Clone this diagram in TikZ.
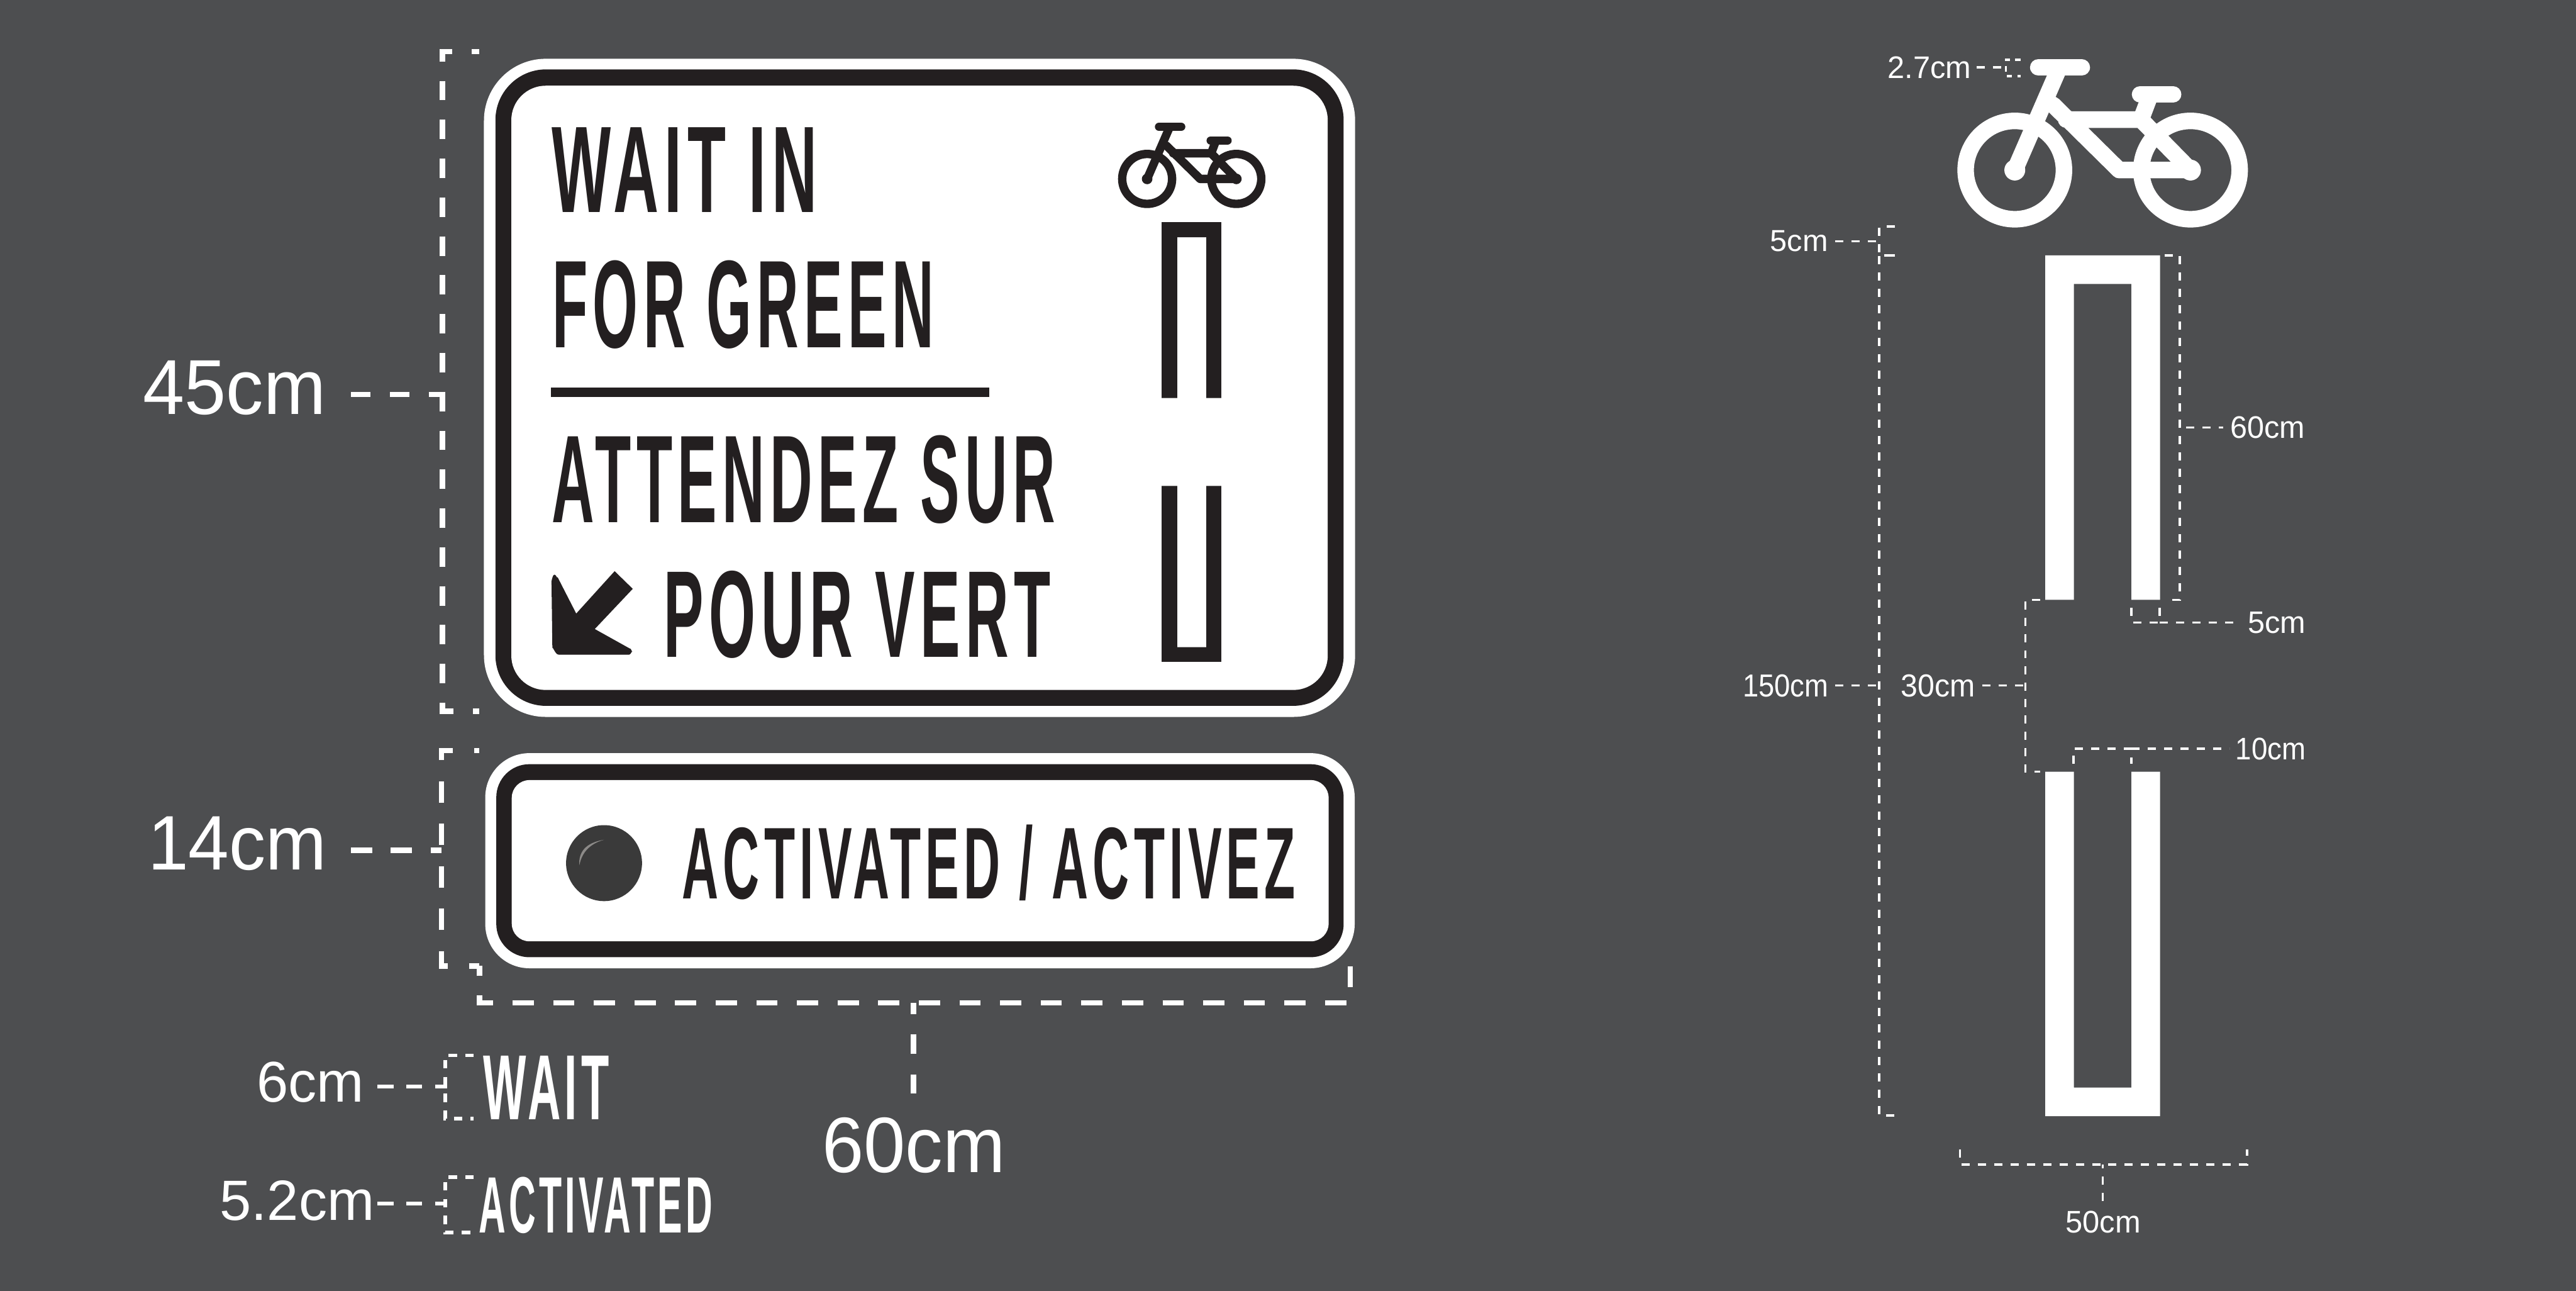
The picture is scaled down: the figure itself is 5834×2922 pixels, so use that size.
\documentclass[tikz,border=0pt]{standalone}
\usepackage{graphicx}
\usepackage{fontspec}
\setmainfont{Liberation Sans}
\newfontfamily\signfont{Liberation Sans}[LetterSpace=9.0]
\definecolor{bgc}{HTML}{4D4E50}
\definecolor{ink}{HTML}{231F20}
\definecolor{lens}{HTML}{3A3A3A}
\definecolor{shine}{HTML}{8C8A88}
\tikzset{
  dimthick/.style={draw=white,line width=1.2pt,dash pattern=on 4.4pt off 4.4pt},
  dimmid/.style={draw=white,line width=0.8pt,dash pattern=on 1.9pt off 1.9pt},
  dimfine/.style={draw=white,line width=0.5pt,dash pattern=on 1.85pt off 1.85pt},
  fitted/.style={inner sep=0pt,outer sep=0pt,anchor=north west}
}
\newcommand\fitlabel[7]{%
  \pgfmathsetlengthmacro\fitw{(#4-#2)*0.1pt}%
  \pgfmathsetlengthmacro\fith{(#5-#3)*0.1pt}%
  \node[fitted,text=#6] (#1) at (#2,#3) {\resizebox*{\fitw}{\fith}{#7}};}
\newcommand\bikeicon[4]{%
  \pgfmathsetlengthmacro\bkw{1.9pt*#3}%
  \begin{scope}[shift={(#1,#2)},scale=#3,line width=\bkw,line cap=round,line join=round,draw=#4]
    \draw (0,0) circle[radius=56.5];
    \draw (202,0) circle[radius=56.5];
    \draw (27,-118) -- (77,-118);
    \draw (144,-87) -- (182,-87);
    \draw[line cap=butt] (50,-115) -- (0,0);
    \draw (44,-75) -- (120,0) -- (202,0) -- (145,-58) -- (59,-58);
    \draw[line cap=butt] (156,-87) -- (145,-58);
    \fill[#4] (0,0) circle[radius=12];
    \fill[#4] (202,0) circle[radius=12];
  \end{scope}}
\begin{document}
\begin{tikzpicture}[x=0.1pt,y=-0.1pt]
\useasboundingbox (0,0) rectangle (5834,2922);
\fill[bgc] (0,0) rectangle (5834,2922);
% main sign
\fill[white,rounded corners=14pt] (1096,133) rectangle (3069,1623);
\fill[ink,rounded corners=11.5pt] (1122,157) rectangle (3043,1598);
\fill[white,rounded corners=7.8pt] (1158,194) rectangle (3007,1562);
\fitlabel{t1}{1250}{289}{1851}{481}{ink}{\signfont\bfseries WAIT IN}
\fitlabel{t2}{1251}{590}{2115}{790}{ink}{\signfont\bfseries FOR GREEN}
\fill[ink] (1247,878) rectangle (2241,898);
\fitlabel{t3}{1250}{986}{2390}{1186}{ink}{\signfont\bfseries ATTENDEZ SUR}
\fitlabel{t4}{1504}{1292}{2380}{1490}{ink}{\signfont\bfseries POUR VERT}
% arrow
\fill[ink,line join=round] (1249,1315) to[out=-90,in=180] (1256,1301) to[out=0,in=-120] (1263,1307)
  -- (1305,1389) -- (1392,1293) -- (1433,1333) -- (1347,1424) -- (1426,1468)
  to[out=30,in=-90] (1432,1475) to[out=90,in=0] (1425,1482) -- (1265,1482)
  to[out=180,in=90] (1251,1468) -- cycle;
\bikeicon{2598}{405}{1}{ink}
% small lane marks
\fill[ink] (2631,901) -- (2631,503) -- (2766,503) -- (2766,901) -- (2732,901) -- (2732,537) -- (2666,537) -- (2666,901) -- cycle;
\fill[ink] (2631,1100) -- (2666,1100) -- (2666,1465) -- (2732,1465) -- (2732,1100) -- (2766,1100) -- (2766,1498) -- (2631,1498) -- cycle;
% lower sign
\fill[white,rounded corners=10pt] (1099,1705) rectangle (3068,2192);
\fill[ink,rounded corners=7.5pt] (1124,1730) rectangle (3043,2167);
\fill[white,rounded corners=4pt] (1159,1766) rectangle (3009,2131);
\fill[lens] (1368,1954) circle[radius=86];
\fill[shine] (1368,1901) .. controls (1325,1908) and (1310,1930) .. (1312,1959) .. controls (1317,1935) and (1330,1912) .. (1368,1901) -- cycle;
\fitlabel{t5}{1545}{1867}{2934}{2039}{ink}{\signfont\bfseries ACTIVATED / ACTIVEZ}
% loose words
\fitlabel{w1}{1094}{2390}{1380}{2534}{white}{\signfont\bfseries WAIT}
\fitlabel{w2}{1084}{2664}{1614}{2792}{white}{\signfont\bfseries ACTIVATED}
% dimension labels
\fitlabel{d45}{324}{817}{738}{940}{white}{45cm}
\fitlabel{d14}{335}{1849}{740}{1971}{white}{14cm}
\fitlabel{d60}{1862}{2530}{2277}{2656}{white}{60cm}
\fitlabel{d6}{582}{2404}{825}{2496}{white}{6cm}
\fitlabel{d52}{498}{2672}{848}{2763}{white}{5.2cm}
\fitlabel{r27}{4275}{128}{4464}{178}{white}{2.7cm}
\fitlabel{r5a}{4009}{522}{4140}{570}{white}{5cm}
\fitlabel{r150}{3947}{1527}{4141}{1578}{white}{150cm}
\fitlabel{r30}{4305}{1527}{4473}{1578}{white}{30cm}
\fitlabel{r60}{5051}{943}{5220}{993}{white}{60cm}
\fitlabel{r5b}{5091}{1385}{5222}{1434}{white}{5cm}
\fitlabel{r10}{5063}{1670}{5222}{1720}{white}{10cm}
\fitlabel{r50}{4678}{2742}{4848}{2792}{white}{50cm}
% big bike
\bikeicon{4563}{385}{1.97}{white}
% big lane marks
\fill[white] (4632,1358) -- (4632,578) -- (4892,578) -- (4892,1358) -- (4827,1358) -- (4827,643) -- (4697,643) -- (4697,1358) -- cycle;
\fill[white] (4632,1747) -- (4697,1747) -- (4697,2462) -- (4827,2462) -- (4827,1747) -- (4892,1747) -- (4892,2527) -- (4632,2527) -- cycle;
% named dimension points
\coordinate (a1) at (1086,117); \coordinate (a2) at (1002,117); \coordinate (a3) at (1002,1610); \coordinate (a4) at (1086,1610);
\coordinate (a5) at (795,893); \coordinate (a6) at (1002,893);
\coordinate (b1) at (1086,1699); \coordinate (b2) at (1000,1699); \coordinate (b3) at (1000,2187); \coordinate (b4) at (1086,2187);
\coordinate (b5) at (795,1925); \coordinate (b6) at (1000,1925);
\coordinate (c1) at (1086,2186); \coordinate (c2) at (1086,2270); \coordinate (c3) at (3058,2270); \coordinate (c4) at (3058,2188);
\coordinate (c5) at (2069,2476); \coordinate (c6) at (2069,2270);
\coordinate (e1) at (1073,2389); \coordinate (e2) at (1008,2389); \coordinate (e3) at (1008,2532); \coordinate (e4) at (1073,2532);
\coordinate (e5) at (855,2460); \coordinate (e6) at (1012,2460);
\coordinate (f1) at (1073,2665); \coordinate (f2) at (1008,2665); \coordinate (f3) at (1008,2790); \coordinate (f4) at (1073,2790);
\coordinate (f5) at (855,2725); \coordinate (f6) at (1012,2725);
\coordinate (g1) at (4576,135); \coordinate (g2) at (4543,135); \coordinate (g3) at (4543,172); \coordinate (g4) at (4576,172);
\coordinate (g5) at (4476,152); \coordinate (g6) at (4543,152);
\coordinate (h1) at (4291,513); \coordinate (h2) at (4256,513); \coordinate (h3) at (4256,578); \coordinate (h4) at (4291,578);
\coordinate (h5) at (4156,546); \coordinate (h6) at (4256,546);
\coordinate (i1) at (4291,578); \coordinate (i2) at (4256,578); \coordinate (i3) at (4256,2525); \coordinate (i4) at (4291,2525);
\coordinate (i5) at (4156,1552); \coordinate (i6) at (4256,1552);
\coordinate (j1) at (4621,1358); \coordinate (j2) at (4587,1358); \coordinate (j3) at (4587,1747); \coordinate (j4) at (4621,1747);
\coordinate (j5) at (4489,1552); \coordinate (j6) at (4587,1552);
\coordinate (k1) at (4902,578); \coordinate (k2) at (4937,578); \coordinate (k3) at (4937,1358); \coordinate (k4) at (4902,1358);
\coordinate (k5) at (4951,968); \coordinate (k6) at (5035,968);
\coordinate (l1) at (4827,1376); \coordinate (l2) at (4827,1409); \coordinate (l3) at (4891,1409); \coordinate (l4) at (4891,1376);
\coordinate (l5) at (5074,1409);
\coordinate (m1) at (4696,1729); \coordinate (m2) at (4696,1695); \coordinate (m3) at (4827,1695); \coordinate (m4) at (4827,1729);
\coordinate (m5) at (5049,1695);
\coordinate (n1) at (4439,2602); \coordinate (n2) at (4439,2636); \coordinate (n3) at (5089,2636); \coordinate (n4) at (5089,2602);
\coordinate (n5) at (4762,2719); \coordinate (n6) at (4762,2636);
% dimension lines
\draw[dimthick,dash phase=2.6pt] (a1) -- (a2) -- (a3) -- (a4);
\draw[dimthick] (a5) -- (a6);
\draw[dimthick,dash pattern=on 4.8pt off 4.8pt,dash phase=3.6pt] (b1) -- (b2) -- (b3) -- (b4);
\draw[dimthick,dash pattern=on 4.8pt off 4.2pt] (b5) -- (b6);
\draw[dimthick,dash pattern=on 4.8pt off 4.4pt,dash phase=2.5pt] (c1) -- (c2) -- (c3) -- (c4);
\draw[dimthick,dash pattern=on 4.4pt off 4.6pt] (c5) -- (c6);
\draw[dimmid] (e1) -- (e2) -- (e3) -- (e4);
\draw[dimmid,dash pattern=on 3.6pt off 2.9pt] (e5) -- (e6);
\draw[dimmid] (f1) -- (f2) -- (f3) -- (f4);
\draw[dimmid,dash pattern=on 3.6pt off 2.9pt] (f5) -- (f6);
\draw[dimfine,dash pattern=on 1.2pt off 1.2pt] (g1) -- (g2) -- (g3) -- (g4);
\draw[dimfine] (g5) -- (g6);
\draw[dimfine] (h1) -- (h2) -- (h3) -- (h4);
\draw[dimfine] (h5) -- (h6);
\draw[dimfine] (i1) -- (i2) -- (i3) -- (i4);
\draw[dimfine] (i5) -- (i6);
\draw[dimfine] (j1) -- (j2) -- (j3) -- (j4);
\draw[dimfine] (j5) -- (j6);
\draw[dimfine] (k1) -- (k2) -- (k3) -- (k4);
\draw[dimfine] (k5) -- (k6);
\draw[dimfine] (l1) -- (l2) -- (l3) -- (l4);
\draw[dimfine] (l3) -- (l5);
\draw[dimfine] (m1) -- (m2) -- (m3) -- (m4);
\draw[dimfine] (m3) -- (m5);
\draw[dimfine] (n1) -- (n2) -- (n3) -- (n4);
\draw[dimfine] (n5) -- (n6);
\end{tikzpicture}
\end{document}
